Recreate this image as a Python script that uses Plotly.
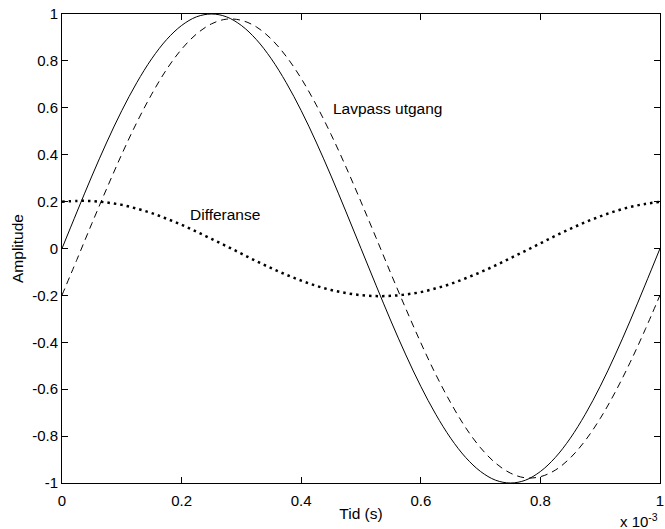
import plotly.graph_objects as go

# Time axis in units of 10^-3 s (one 1 kHz period)
tid = [0.000, 0.025, 0.050, 0.075, 0.100, 0.125, 0.150, 0.175, 0.200, 0.225,
       0.250, 0.275, 0.300, 0.325, 0.350, 0.375, 0.400, 0.425, 0.450, 0.475,
       0.500, 0.525, 0.550, 0.575, 0.600, 0.625, 0.650, 0.675, 0.700, 0.725,
       0.750, 0.775, 0.800, 0.825, 0.850, 0.875, 0.900, 0.925, 0.950, 0.975,
       1.000]

# Input signal (solid)
inngang = [0.000, 0.156, 0.309, 0.454, 0.588, 0.707, 0.809, 0.891, 0.951, 0.988,
           1.000, 0.988, 0.951, 0.891, 0.809, 0.707, 0.588, 0.454, 0.309, 0.156,
           0.000, -0.156, -0.309, -0.454, -0.588, -0.707, -0.809, -0.891, -0.951, -0.988,
           -1.000, -0.988, -0.951, -0.891, -0.809, -0.707, -0.588, -0.454, -0.309, -0.156,
           0.000]

# Low-pass filter output (dashed)
lavpass = [-0.199, -0.047, 0.107, 0.257, 0.402, 0.537, 0.658, 0.764, 0.850, 0.915,
           0.958, 0.978, 0.973, 0.945, 0.893, 0.819, 0.725, 0.613, 0.486, 0.347,
           0.199, 0.047, -0.107, -0.257, -0.402, -0.537, -0.658, -0.764, -0.850, -0.915,
           -0.958, -0.978, -0.973, -0.945, -0.893, -0.819, -0.725, -0.613, -0.486, -0.347,
           -0.199]

# Difference between input and output (dotted)
differanse = [0.199, 0.203, 0.202, 0.196, 0.186, 0.170, 0.151, 0.127, 0.101, 0.072,
              0.041, 0.010, -0.022, -0.054, -0.084, -0.112, -0.137, -0.159, -0.177, -0.190,
              -0.199, -0.203, -0.202, -0.196, -0.186, -0.170, -0.151, -0.127, -0.101, -0.072,
              -0.041, -0.010, 0.022, 0.054, 0.084, 0.112, 0.137, 0.159, 0.177, 0.190,
              0.199]

x_ticks = [0, 0.2, 0.4, 0.6, 0.8, 1]
x_tick_labels = ["0", "0.2", "0.4", "0.6", "0.8", "1"]
y_ticks = [-1, -0.8, -0.6, -0.4, -0.2, 0, 0.2, 0.4, 0.6, 0.8, 1]
y_tick_labels = ["-1", "-0.8", "-0.6", "-0.4", "-0.2", "0", "0.2", "0.4", "0.6", "0.8", "1"]

FONT = "Liberation Sans, Arial, Helvetica, sans-serif"

fig = go.Figure()
fig.add_trace(go.Scatter(x=tid, y=inngang, mode="lines",
                         line=dict(color="black", width=1, shape="spline")))
fig.add_trace(go.Scatter(x=tid, y=lavpass, mode="lines",
                         line=dict(color="black", width=1, dash="7px,5px", shape="spline")))
fig.add_trace(go.Scatter(x=tid, y=differanse, mode="lines",
                         line=dict(color="black", width=2.5, dash="2.5px,4px", shape="spline")))

fig.add_annotation(x=0.45, y=0.595, text="Lavpass utgang", showarrow=False,
                   xanchor="left", yanchor="middle", font=dict(size=15.5))
fig.add_annotation(x=0.211, y=0.147, text="Differanse", showarrow=False,
                   xanchor="left", yanchor="middle", font=dict(size=15.5))
fig.add_annotation(x=1, xref="paper", y=-0.08, yref="paper",
                   text="x 10<sup>-3</sup>", showarrow=False,
                   xanchor="right", yanchor="middle", font=dict(size=15))

axis_common = dict(showgrid=False, zeroline=False, showline=True, linecolor="black",
                   linewidth=1, mirror="allticks", ticks="inside", ticklen=6,
                   tickcolor="black", tickwidth=1, tickfont=dict(size=15, color="black"))

fig.update_xaxes(range=[0, 1], tickvals=x_ticks, ticktext=x_tick_labels,
                 ticklabeloverflow="allow", ticklabelstandoff=4,
                 title=dict(text="Tid (s)", font=dict(size=15.5), standoff=0),
                 **axis_common)
fig.update_yaxes(range=[-1, 1], tickvals=y_ticks, ticktext=y_tick_labels,
                 title=dict(text="Amplitude", font=dict(size=15.5), standoff=4),
                 **axis_common)

fig.update_layout(width=665, height=529, showlegend=False,
                  margin=dict(l=62, r=1, t=14, b=46),
                  paper_bgcolor="white", plot_bgcolor="white",
                  font=dict(family=FONT, color="black"))

fig.write_html("out.html")
